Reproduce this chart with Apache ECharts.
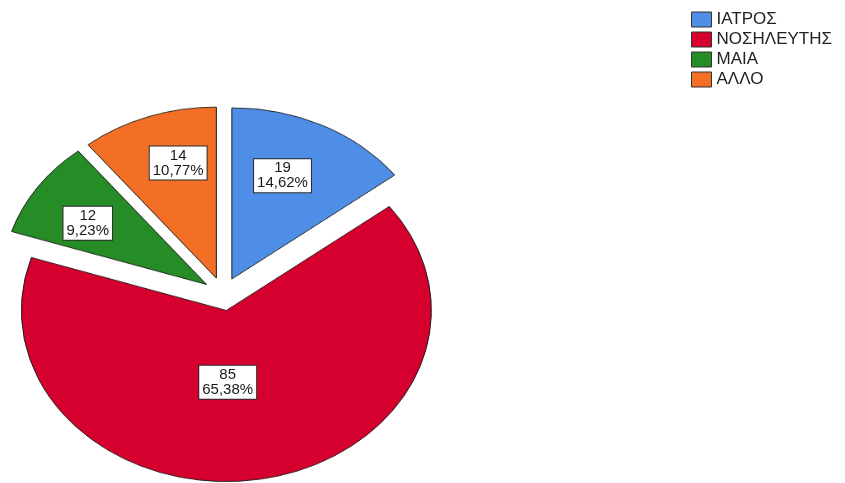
<!DOCTYPE html>
<html>
<head>
<meta charset="utf-8">
<script src="https://cdn.jsdelivr.net/npm/echarts@6/dist/echarts.min.js"></script>
<style>
  html, body { margin: 0; padding: 0; background: #ffffff; overflow: hidden; }
  #wrap { position: relative; width: 845px; height: 483px; overflow: hidden; }
  #pie { position: absolute; left: 0; top: 0; width: 845px; height: 579px;
         transform: scaleY(0.835); transform-origin: 0 0; }
  #top { position: absolute; left: 0; top: 0; width: 845px; height: 483px; }
</style>
</head>
<body>
<div id="wrap">
  <div id="pie"></div>
  <div id="top"></div>
</div>
<script>
// ---- data ----
const categories = ['ΙΑΤΡΟΣ', 'ΝΟΣΗΛΕΥΤΗΣ', 'ΜΑΙΑ', 'ΑΛΛΟ'];
const counts = [19, 85, 12, 14];

// ---- styling ----
const colors = ['#4f8ee6', '#d5002d', '#268c26', '#f26f25'];
const labelShift = [[5, -8], [-16, -33], [-34, -1], [-4, -15]];
const FONT = '"Liberation Sans", Arial, sans-serif';

const total = counts.reduce((a, b) => a + b, 0);

// Pie (drawn in a vertically squashed container to get the elliptical look)
const pieChart = echarts.init(document.getElementById('pie'), null, { renderer: 'canvas' });
pieChart.setOption({
  animation: false,
  series: [{
    type: 'pie',
    center: [223, 352],
    radius: 205,
    startAngle: 90,
    clockwise: true,
    selectedMode: 'multiple',
    selectedOffset: 20,
    label: { show: false },
    labelLine: { show: false },
    emphasis: { disabled: true },
    itemStyle: { borderColor: '#1e1e1e', borderWidth: 1 },
    data: categories.map((name, i) => ({
      name: name,
      value: counts[i],
      selected: true,
      itemStyle: { color: colors[i] }
    }))
  }]
});

// Overlay: labels and legend (unscaled text)
const topChart = echarts.init(document.getElementById('top'), null, { renderer: 'canvas' });
topChart.setOption({
  animation: false,
  legend: {
    orient: 'vertical',
    left: 686,
    top: 6,
    itemWidth: 20,
    itemHeight: 15,
    itemGap: 3,
    icon: 'rect',
    selectedMode: false,
    textStyle: { fontFamily: FONT, fontSize: 17, color: '#222', lineHeight: 15 },
    data: categories.map((name, i) => ({
      name: name,
      itemStyle: { color: colors[i], opacity: 1, borderColor: '#333', borderWidth: 1 }
    }))
  },
  series: [{
    type: 'pie',
    center: [223, 294],
    radius: 240,
    startAngle: 90,
    clockwise: true,
    silent: true,
    emphasis: { disabled: true },
    itemStyle: { color: 'rgba(0,0,0,0)', borderWidth: 0 },
    labelLine: { show: false },
    label: {
      show: true,
      position: 'inside',
      formatter: p => p.value + '\n' + (p.value / total * 100).toFixed(2).replace('.', ',') + '%',
      fontFamily: FONT,
      fontSize: 15,
      lineHeight: 15,
      color: '#1a1a1a',
      align: 'center',
      backgroundColor: '#ffffff',
      borderColor: '#2a2a2a',
      borderWidth: 1,
      padding: [2, 3, 1, 3]
    },
    labelLayout: p => ({ dx: labelShift[p.dataIndex][0], dy: labelShift[p.dataIndex][1] }),
    data: categories.map((name, i) => ({ name: name, value: counts[i] }))
  }]
});
</script>
</body>
</html>
